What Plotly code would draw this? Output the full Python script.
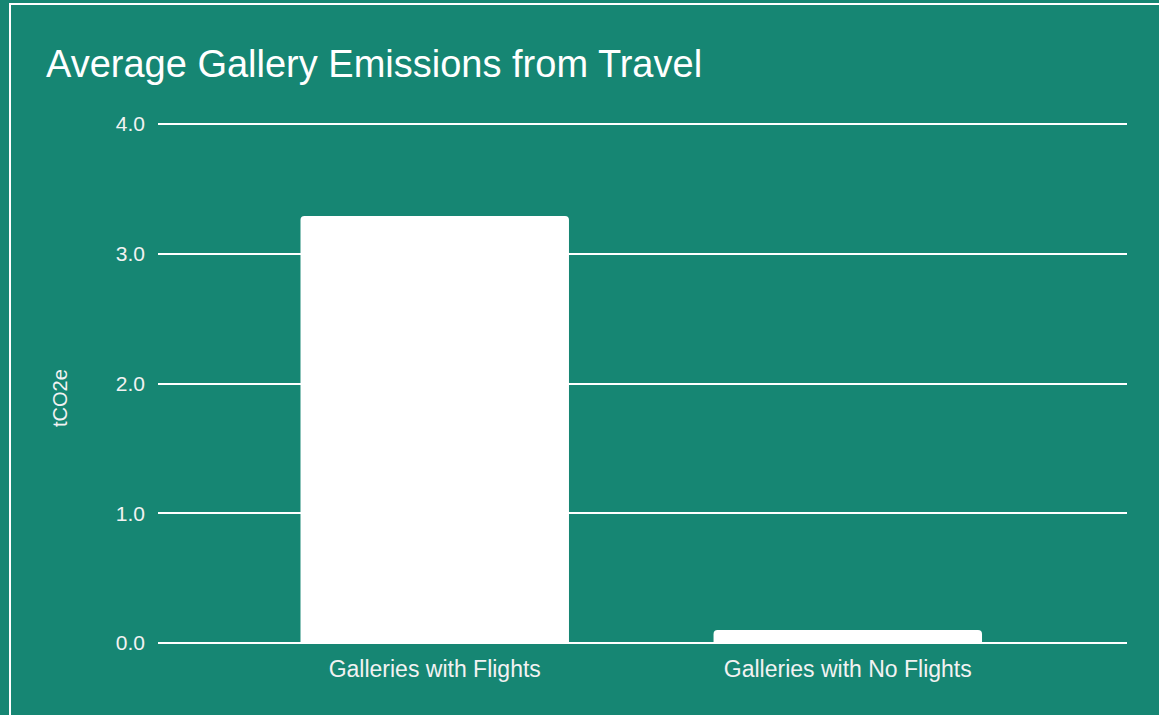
import plotly.graph_objects as go

categories = ["Galleries with Flights", "Galleries with No Flights"]
values = [3.29, 0.10]
y_ticks = [0, 1, 2, 3, 4]
y_tick_labels = ["0.0", "1.0", "2.0", "3.0", "4.0"]

BG = "#168673"
W, H = 1159, 715
ml, mr, mt, mb = 158, 32, 114, 72
pw, ph = W - ml - mr, H - mt - mb
y_top = 4 + 10 / 129.75

fig = go.Figure(go.Bar(
    x=categories, y=values,
    marker=dict(color="white", line=dict(width=0)),
    width=0.65,
))

fig.update_layout(
    width=W, height=H,
    margin=dict(l=ml, r=mr, t=mt, b=mb),
    paper_bgcolor=BG, plot_bgcolor=BG,
    barcornerradius=4,
    font=dict(family="Liberation Sans, Arial, sans-serif", color="#f2f2f2"),
    title=dict(text="Average Gallery Emissions from Travel",
               font=dict(size=38, color="white"),
               x=46 / W, xanchor="left", xref="container",
               y=1 - 64 / H, yanchor="middle", yref="container"),
    showlegend=False,
    xaxis=dict(range=[-0.67, 1.676], showgrid=False, zeroline=False,
               showline=False, ticks="", tickfont=dict(size=23),
               ticklabelstandoff=10, fixedrange=True),
    yaxis=dict(range=[0, y_top], tickvals=y_ticks, ticktext=y_tick_labels,
               showgrid=True, gridcolor="white", gridwidth=1.5,
               zeroline=True, zerolinecolor="white", zerolinewidth=2,
               tickfont=dict(size=21), ticks="", ticklabelstandoff=12),
    annotations=[dict(text="tCO2e", textangle=-90, xref="paper", yref="paper",
                      x=(60 - ml) / pw, y=(H - mb - 398) / ph,
                      xanchor="center", yanchor="middle", showarrow=False,
                      font=dict(size=20, color="#f2f2f2"))],
    shapes=[dict(type="rect", xref="paper", yref="paper",
                 x0=(10 - ml) / pw, x1=1.5,
                 y0=-0.5, y1=(H - mb - 4) / ph,
                 line=dict(color="white", width=2), fillcolor="rgba(0,0,0,0)",
                 layer="below")],
)

fig.write_html("out.html", config={"displayModeBar": False},
               post_script="document.body.style.margin='0';")
